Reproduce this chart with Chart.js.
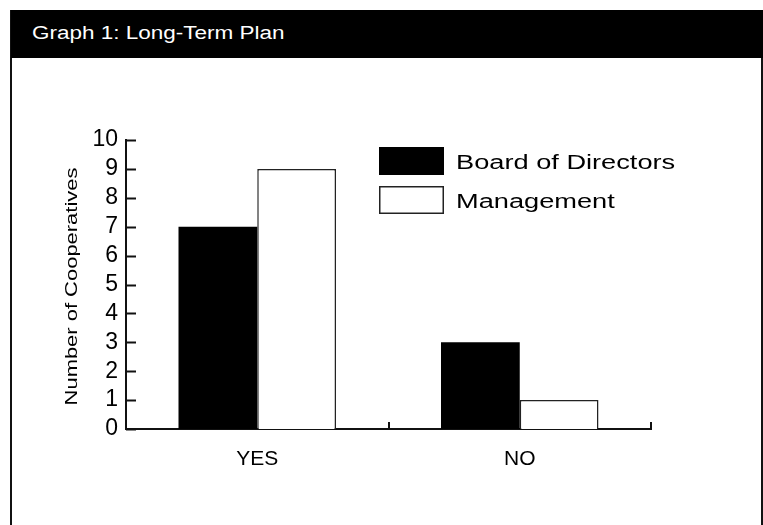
<!DOCTYPE html>
<html>
<head>
<meta charset="utf-8">
<title>Graph 1: Long-Term Plan</title>
<script src="https://cdn.jsdelivr.net/npm/chart.js@4.4.1/dist/chart.umd.min.js"></script>
<style>
  html, body { margin: 0; padding: 0; background: #fff; }
  #frame { position: relative; width: 763px; height: 525px; overflow: hidden; font-family: "Liberation Sans", Arial, sans-serif; }
  #frame canvas { position: absolute; left: 0; top: 0; }
  .edge { position: absolute; top: 10px; bottom: 0; width: 2px; background: #111; }
  #header { position: absolute; left: 11px; top: 10px; width: 752px; height: 48px; background: #000; }
  #header span { position: absolute; left: 21px; top: 13px; color: #fff; font-size: 18px; white-space: nowrap;
                 transform: scaleX(1.25); transform-origin: left center; }
</style>
</head>
<body>
<div id="frame">
  <canvas id="planChart"></canvas>
  <div class="edge" style="left:10px"></div>
  <div class="edge" style="left:761px"></div>
  <div id="header"><span>Graph 1: Long-Term Plan</span></div>
</div>
<script>
// data
const categories = ['YES', 'NO'];
const boardValues = [7, 3];
const managementValues = [9, 1];
const yTicks = [0, 1, 2, 3, 4, 5, 6, 7, 8, 9, 10];
const yTitle = 'Number of Cooperatives';

const FONT = '"Liberation Sans", Arial, sans-serif';

// axis tick marks (drawn inward), legend and y title
const decor = {
    id: 'decor',
    afterDraw(chart) {
        const ctx = chart.ctx;
        const x = chart.scales.x;
        const y = chart.scales.y;
        const area = chart.chartArea;
        ctx.save();
        ctx.strokeStyle = '#111';
        ctx.lineWidth = 2;

        // y ticks point into the plot
        y.ticks.forEach(t => {
            const py = Math.round(y.getPixelForValue(t.value)) + 0.5;
            ctx.beginPath();
            ctx.moveTo(area.left, py);
            ctx.lineTo(area.left + 10, py);
            ctx.stroke();
        });

        // short upward ticks at category boundaries
        const half = (x.getPixelForValue(1) - x.getPixelForValue(0)) / 2;
        categories.forEach((c, i) => {
            const px = Math.round(x.getPixelForValue(i) + half);
            ctx.beginPath();
            ctx.moveTo(px, area.bottom);
            ctx.lineTo(px, area.bottom - 7);
            ctx.stroke();
        });

        // legend
        const lx = 379, boxW = 65, boxH = 28;
        const rows = [147, 186];
        chart.data.datasets.forEach((ds, i) => {
            const top = rows[i];
            ctx.fillStyle = ds.backgroundColor;
            ctx.fillRect(lx, top, boxW, boxH);
            if (ds.borderWidth) {
                ctx.lineWidth = 1.5;
                ctx.strokeStyle = ds.borderColor;
                ctx.strokeRect(lx + 0.75, top + 0.75, boxW - 1.5, boxH - 1.5);
            }
            ctx.save();
            ctx.translate(456, top + 22);
            ctx.scale(1.36, 1);
            ctx.fillStyle = '#000';
            ctx.font = '20px ' + FONT;
            ctx.textBaseline = 'alphabetic';
            ctx.textAlign = 'left';
            ctx.fillText(ds.label, 0, 0);
            ctx.restore();
        });

        // y axis title
        ctx.save();
        ctx.translate(77, (area.top + area.bottom) / 2 + 2);
        ctx.rotate(-Math.PI / 2);
        ctx.scale(1.33, 1);
        ctx.fillStyle = '#000';
        ctx.font = '16.5px ' + FONT;
        ctx.textAlign = 'center';
        ctx.textBaseline = 'alphabetic';
        ctx.fillText(yTitle, 0, 0);
        ctx.restore();

        ctx.restore();
    }
};

new Chart(document.getElementById('planChart'), {
    type: 'bar',
    data: {
        labels: categories,
        datasets: [
            { label: 'Board of Directors', data: boardValues, backgroundColor: '#000', borderWidth: 0 },
            { label: 'Management', data: managementValues, backgroundColor: '#fff', borderColor: '#222', borderWidth: 1.5 }
        ]
    },
    options: {
        responsive: true,
        maintainAspectRatio: false,
        animation: false,
        layout: { padding: { left: 0, right: 112, top: 140, bottom: 0 } },
        datasets: { bar: { categoryPercentage: 0.6, barPercentage: 1.0 } },
        plugins: { legend: { display: false }, tooltip: { enabled: false }, title: { display: false } },
        scales: {
            x: {
                grid: { display: false, drawTicks: false },
                border: { display: true, color: '#111', width: 2 },
                ticks: { color: '#000', padding: 18, font: { family: FONT, size: 21 } },
                afterFit: s => { s.height = 96; }
            },
            y: {
                min: 0,
                max: 10,
                afterBuildTicks: s => { s.ticks = yTicks.map(v => ({ value: v })); },
                grid: { display: false, drawTicks: false },
                border: { display: true, color: '#111', width: 2 },
                ticks: { color: '#000', padding: 8, autoSkip: false, font: { family: FONT, size: 23 } },
                afterFit: s => { s.width = 126; }
            }
        }
    },
    plugins: [decor]
});
</script>
</body>
</html>
